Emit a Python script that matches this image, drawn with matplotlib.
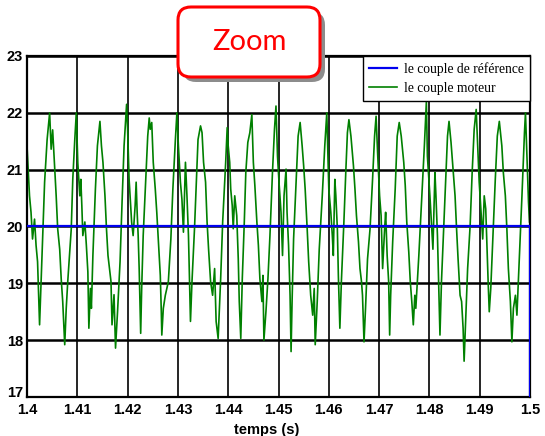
import numpy as np
import matplotlib
matplotlib.use("Agg")
import matplotlib.pyplot as plt
from matplotlib.patches import FancyBboxPatch
from matplotlib.transforms import IdentityTransform

# couple moteur (time in ms, torque)
t_moteur_ms = [
    1400.0, 1400.5, 1400.8, 1401.1, 1401.5, 1401.8, 1402.1, 1402.5, 1402.8, 1403.5,
    1404.0, 1404.5, 1404.8, 1405.1, 1405.6, 1405.8, 1406.1, 1406.5, 1406.8, 1407.1,
    1407.5, 1407.8, 1408.1, 1408.8, 1409.1, 1409.5, 1409.8, 1410.1, 1410.5, 1410.7,
    1410.9, 1411.1, 1411.5, 1411.8, 1412.1, 1412.3, 1412.6, 1412.8, 1413.1, 1413.6,
    1414.0, 1414.5, 1414.8, 1415.1, 1415.5, 1415.8, 1416.1, 1416.7, 1416.9, 1417.3,
    1417.6, 1418.0, 1418.5, 1418.9, 1419.3, 1419.8,
    1420.0, 1420.3, 1420.5, 1420.8, 1421.1, 1421.5, 1421.7, 1421.9, 1422.1, 1422.3,
    1422.6, 1422.8, 1423.1, 1423.6, 1424.0, 1424.3, 1424.5, 1424.8, 1425.1, 1425.5,
    1425.8, 1426.1, 1426.5, 1426.7, 1426.8, 1427.1, 1427.5, 1427.8, 1428.1, 1428.6,
    1429.0, 1429.5, 1429.8, 1430.1, 1430.5, 1430.8, 1431.1, 1431.5, 1431.8, 1432.1,
    1432.3, 1432.5, 1432.8, 1433.3, 1433.7, 1434.0, 1434.5, 1434.8, 1435.1, 1435.5,
    1435.8, 1436.1, 1436.5, 1436.9, 1437.3, 1437.6, 1438.0, 1438.5, 1438.9, 1439.5,
    1439.8,
    1440.0, 1440.3, 1440.5, 1440.8, 1441.0, 1441.3, 1441.7, 1442.0, 1442.2, 1442.5,
    1442.8, 1443.2, 1443.5, 1443.9, 1444.3, 1444.7, 1445.0, 1445.3, 1445.7, 1446.0,
    1446.3, 1446.7, 1446.9, 1447.1, 1447.5, 1447.9, 1448.3, 1448.8, 1449.2, 1449.5,
    1449.8, 1450.1, 1450.5, 1450.8, 1451.1, 1451.5, 1451.7, 1452.0, 1452.3, 1452.5,
    1452.7, 1453.0, 1453.5, 1453.9, 1454.3, 1454.7, 1455.0, 1455.3, 1455.7, 1456.0,
    1456.4, 1456.8, 1457.1, 1457.3, 1457.7, 1458.1, 1458.7, 1459.2, 1459.6,
    1460.0, 1460.4, 1460.7, 1460.9, 1461.2, 1461.4, 1461.7, 1461.9, 1462.2, 1462.5,
    1463.0, 1463.4, 1463.7, 1464.0, 1464.4, 1464.9, 1465.2, 1465.5, 1465.9, 1466.2,
    1466.5, 1466.7, 1467.0, 1467.3, 1467.7, 1468.2, 1468.7, 1469.1, 1469.4, 1469.7,
    1470.1, 1470.4, 1470.7, 1471.1, 1471.3, 1471.6, 1471.9, 1472.1, 1472.3, 1472.7,
    1473.2, 1473.6, 1474.0, 1474.4, 1474.9, 1475.2, 1475.5, 1475.9, 1476.2, 1476.5,
    1476.8, 1477.1, 1477.3, 1477.9, 1478.5, 1479.0, 1479.4,
    1479.6, 1479.9, 1480.1, 1480.4, 1480.7, 1481.1, 1481.3, 1481.6, 1481.9, 1482.1,
    1482.4, 1482.9, 1483.3, 1483.6, 1483.9, 1484.3, 1484.7, 1485.1, 1485.4, 1485.7,
    1486.1, 1486.4, 1486.7, 1486.9, 1487.2, 1487.6, 1488.1, 1488.5, 1488.9, 1489.3,
    1489.6, 1489.9, 1490.3, 1490.6, 1490.9, 1491.2, 1491.5, 1491.7, 1491.9, 1492.2,
    1492.6, 1493.1, 1493.5, 1493.9, 1494.4, 1494.7, 1495.1, 1495.4, 1495.7, 1496.1,
    1496.4, 1496.7, 1497.1, 1497.4, 1497.9, 1498.4, 1498.9, 1499.1, 1499.4, 1499.7,
    1499.9,
]
c_moteur = [
    21.42, 20.54, 20.25, 19.78, 20.13, 19.67, 19.38, 18.27, 19.03, 20.78,
    21.53, 22.00, 21.36, 21.70, 20.89, 20.54, 19.96, 19.60, 19.08, 18.68,
    17.92, 18.56, 19.03, 19.96, 20.83, 21.53, 22.00, 21.12, 20.54, 20.83,
    20.37, 19.84, 20.08, 19.67, 19.20, 18.21, 18.91, 18.56, 19.49, 20.66,
    21.42, 21.85, 21.42, 21.13, 20.54, 19.96, 19.49, 19.03, 18.27, 18.80,
    17.86, 18.50, 19.38, 20.43, 21.42, 22.15,
    21.71, 20.83, 20.54, 20.08, 19.84, 20.37, 20.78, 20.25, 19.84, 19.26,
    18.12, 18.91, 19.84, 20.83, 21.59, 21.91, 21.71, 21.83, 21.13, 20.66,
    20.25, 19.78, 19.14, 18.50, 18.09, 18.56, 18.79, 18.91, 19.03, 19.78,
    20.66, 21.53, 22.00, 21.42, 20.78, 20.48, 19.90, 21.13, 20.54, 19.84,
    19.08, 18.33, 19.03, 19.96, 20.83, 21.53, 21.77, 21.65, 21.13, 20.78,
    20.08, 19.60, 19.03, 18.79, 19.26, 18.33, 18.03, 19.08, 20.08, 21.13,
    21.74,
    21.42, 21.13, 20.66, 20.37, 19.96, 20.54, 20.19, 19.43, 18.68, 18.03,
    19.08, 20.08, 20.95, 21.48, 21.65, 21.97, 21.13, 20.72, 20.08, 19.67,
    19.08, 18.68, 19.14, 18.00, 18.50, 19.08, 19.84, 20.95, 21.71, 22.12,
    21.24, 20.78, 20.25, 19.49, 20.54, 21.01, 20.25, 19.67, 18.79, 17.80,
    18.68, 19.78, 20.78, 21.59, 21.83, 21.42, 21.07, 20.66, 19.96, 19.38,
    18.79, 18.44, 18.91, 17.92, 18.68, 19.60, 20.54, 21.42, 22.00,
    20.66, 20.25, 19.84, 19.49, 20.83, 20.54, 19.96, 19.14, 18.21, 19.03,
    20.08, 21.01, 21.65, 21.88, 21.59, 21.07, 20.66, 20.19, 19.73, 19.26,
    19.03, 18.79, 17.97, 18.56, 19.43, 19.96, 20.83, 21.59, 21.94, 21.30,
    20.54, 20.19, 19.26, 19.96, 20.25, 19.49, 19.03, 18.09, 18.79, 19.73,
    20.66, 21.59, 21.83, 21.59, 21.13, 20.72, 20.08, 19.55, 19.03, 18.68,
    18.27, 18.79, 18.56, 19.49, 20.54, 21.42, 22.20,
    21.24, 20.83, 20.54, 20.08, 19.60, 20.95, 20.54, 19.84, 18.79, 18.09,
    19.03, 20.08, 20.95, 21.59, 21.85, 21.48, 21.01, 20.54, 19.96, 19.43,
    18.79, 18.68, 18.21, 17.63, 18.33, 19.26, 20.02, 20.95, 21.71, 22.06,
    21.42, 20.78, 20.19, 19.78, 20.54, 20.31, 19.49, 18.97, 18.50, 18.91,
    19.78, 20.83, 21.59, 21.85, 21.42, 20.95, 20.54, 19.96, 19.26, 18.68,
    17.97, 18.56, 18.79, 18.44, 19.49, 20.54, 21.65, 22.00, 21.24, 20.43,
    20.08,
]

# couple de reference: constant 20 then cut at the end of the window
t_ref = [1.40, 1.50, 1.50]
c_ref = [20, 20, 17]

xticks = [1.4, 1.41, 1.42, 1.43, 1.44, 1.45, 1.46, 1.47, 1.48, 1.49, 1.5]
xlabels = ["1.4", "1.41", "1.42", "1.43", "1.44", "1.45", "1.46", "1.47", "1.48", "1.49", "1.5"]
yticks = [17, 18, 19, 20, 21, 22, 23]

t_moteur = np.array(t_moteur_ms) / 1000.0

fig = plt.figure(figsize=(5.45, 4.36), dpi=100)
ax = fig.add_axes([27 / 545, 39 / 436, 503 / 545, 341 / 436])

ax.plot(t_ref, c_ref, color="#0000ee", lw=1.6, zorder=3, label="le couple de référence")
ax.plot(t_moteur, c_moteur, color="#008000", lw=1.2, zorder=2, label="le couple moteur")

ax.set_xlim(1.4, 1.5)
ax.set_ylim(17, 23)
ax.set_xticks(xticks)
ax.set_xticklabels(xlabels)
ax.set_yticks(yticks)
ax.grid(True, color="black", lw=1.4)
ax.xaxis.grid(True, lw=1.2)
ax.yaxis.grid(True, lw=1.8)
ax.set_axisbelow(True)
for s in ax.spines.values():
    s.set_linewidth(1.6)
    s.set_color("black")

ax.tick_params(length=0)
ax.tick_params(axis="x", pad=4)
ax.tick_params(axis="y", pad=3)
for lab in ax.get_xticklabels() + ax.get_yticklabels():
    lab.set_fontfamily("Liberation Sans")
    lab.set_fontweight("bold")
    lab.set_fontsize(10.5)
ylabs = ax.get_yticklabels()
for lab in ylabs:
    lab.set_verticalalignment("center_baseline")
# bottom label sits just above the x tick labels
ylabs[0].set_verticalalignment("baseline")

ax.set_xlabel("temps (s)", fontfamily="Liberation Sans", fontweight="bold", fontsize=10.5)
ax.xaxis.set_label_coords(0.477, -0.075)

leg = ax.legend(loc="upper right", borderaxespad=0, fancybox=False,
                prop={"family": "Liberation Serif", "size": 9.8},
                handlelength=2.0, handletextpad=0.55, borderpad=0.45,
                labelspacing=0.45, framealpha=1)
leg.get_frame().set_edgecolor("black")
leg.get_frame().set_linewidth(1.0)

# "Zoom" label box with drop shadow, in pixel coordinates
px = IdentityTransform()
shadow = FancyBboxPatch((183, 436 - 82), 142, 70, boxstyle="round,pad=0,rounding_size=13",
                        transform=px, facecolor="#8c8c8c", edgecolor="none", zorder=5)
box = FancyBboxPatch((178, 436 - 77), 142, 70, boxstyle="round,pad=0,rounding_size=13",
                     transform=px, facecolor="white", edgecolor="#ff0000", lw=2.2, zorder=6)
fig.add_artist(shadow)
fig.add_artist(box)
fig.text(249 / 545, 1 - 42 / 436, "Zoom", color="#ff0000", fontsize=21,
         fontfamily="Lato", ha="center", va="center", zorder=7)

fig.savefig("out.png", dpi=100)
